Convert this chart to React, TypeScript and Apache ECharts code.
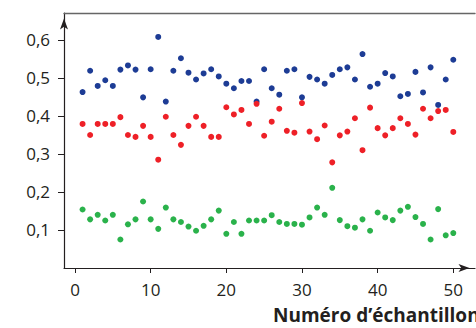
import React, { useEffect, useRef } from "react";
import * as echarts from "echarts";

// Sample numbers 1..50 (one value per sample in each series)
const blueValues = [
  0.463, 0.519, 0.479, 0.494, 0.479, 0.522, 0.533, 0.522, 0.449, 0.523,
  0.608, 0.438, 0.519, 0.552, 0.514, 0.496, 0.512, 0.523, 0.504, 0.485,
  0.473, 0.492, 0.492, 0.438, 0.523, 0.473, 0.456, 0.519, 0.523, 0.449,
  0.503, 0.496, 0.485, 0.508, 0.523, 0.528, 0.496, 0.563, 0.477, 0.485,
  0.513, 0.504, 0.452, 0.458, 0.516, 0.462, 0.528, 0.429, 0.496, 0.548,
];
const redValues = [
  0.379, 0.35, 0.379, 0.379, 0.379, 0.397, 0.35, 0.345, 0.374, 0.345,
  0.285, 0.398, 0.35, 0.324, 0.374, 0.398, 0.374, 0.345, 0.345, 0.423,
  0.404, 0.416, 0.379, 0.432, 0.348, 0.385, 0.419, 0.361, 0.356, 0.434,
  0.359, 0.339, 0.375, 0.278, 0.349, 0.359, 0.394, 0.31, 0.422, 0.368,
  0.349, 0.368, 0.394, 0.379, 0.351, 0.419, 0.394, 0.413, 0.416, 0.358,
];
const greenValues = [
  0.154, 0.128, 0.14, 0.125, 0.14, 0.075, 0.115, 0.128, 0.175, 0.128,
  0.103, 0.159, 0.128, 0.121, 0.109, 0.098, 0.111, 0.128, 0.151, 0.09,
  0.121, 0.09, 0.125, 0.125, 0.125, 0.139, 0.121, 0.116, 0.116, 0.114,
  0.133, 0.159, 0.14, 0.211, 0.126, 0.11, 0.106, 0.128, 0.098, 0.146,
  0.133, 0.126, 0.151, 0.161, 0.134, 0.116, 0.075, 0.155, 0.086, 0.092,
];

const xTicks = [0, 10, 20, 30, 40, 50];
const yTicks = [0.1, 0.2, 0.3, 0.4, 0.5, 0.6];
const xAxisName = "Numéro d’échantillon";

const toPoints = (vals: number[]) => vals.map((v, i) => [i + 1, v]);

const INK = "#231f20";
const FONT = "'Open Sans', 'Noto Sans', sans-serif";

export default function App() {
  const ref = useRef<HTMLDivElement>(null);
  useEffect(() => {
    if (!ref.current) return;
    const chart = echarts.init(ref.current, null, { renderer: "svg" });
    const arrowLine = {
      show: true,
      onZero: false,
      symbol: ["none", "arrow"],
      symbolSize: [6, 11],
      symbolOffset: [0, -5.5],
      lineStyle: { color: INK, width: 1.2 },
    };
    chart.setOption({
      animation: false,
      title: {
        text: xAxisName,
        left: 273,
        top: 305,
        textStyle: { fontFamily: FONT, fontWeight: "bold", fontSize: 19, color: INK },
        padding: 0,
      },
      grid: { left: 64, right: 1, top: 13, bottom: 60, containLabel: false },
      xAxis: [
        {
          type: "value",
          min: -1.454,
          max: 52.87,
          axisLine: arrowLine,
          axisTick: { show: true, customValues: xTicks, length: 5, lineStyle: { color: INK, width: 1 } },
          axisLabel: {
            customValues: xTicks,
            fontSize: 17,
            fontFamily: FONT,
            color: INK,
            margin: 13,
          },
          splitLine: { show: false },
        },
        {
          type: "value",
          position: "top",
          min: -1.454,
          max: 52.87,
          axisLine: { show: true, onZero: false, lineStyle: { color: "#666", width: 1.4 } },
          axisTick: { show: false },
          axisLabel: { show: false },
          splitLine: { show: false },
        },
      ],
      yAxis: {
        type: "value",
        min: 0,
        max: 0.671,
        axisLine: arrowLine,
        axisTick: { show: true, customValues: yTicks, length: 6, lineStyle: { color: INK, width: 1 } },
        axisLabel: {
          customValues: yTicks,
          formatter: (v: number) => v.toFixed(1).replace(".", ","),
          fontSize: 17,
          fontFamily: FONT,
          color: INK,
          margin: 14,
        },
        splitLine: { show: false },
      },
      series: [
        { type: "scatter", data: toPoints(blueValues), symbolSize: 6, itemStyle: { color: "#1d3c95", opacity: 1 } },
        { type: "scatter", data: toPoints(redValues), symbolSize: 6, itemStyle: { color: "#ee2027", opacity: 1 } },
        { type: "scatter", data: toPoints(greenValues), symbolSize: 6, itemStyle: { color: "#2ab24b", opacity: 1 } },
      ],
    });
    return () => chart.dispose();
  }, []);
  return <div ref={ref} style={{ width: 476, height: 328, position: "absolute", left: 0, top: 0 }} />;
}
